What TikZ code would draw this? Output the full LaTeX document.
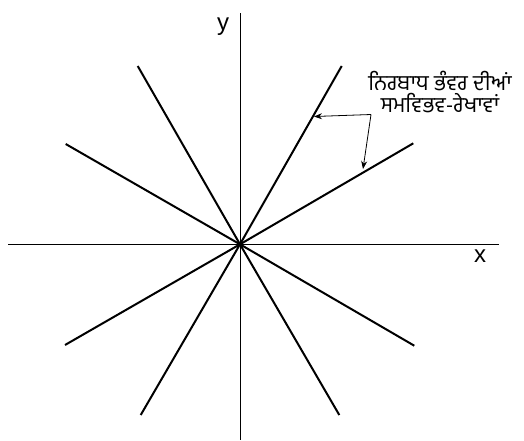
\documentclass[tikz,border=0pt]{standalone}
\usepackage{fontspec}
\setmainfont{Liberation Sans}
\newfontfamily\gurfont[Script=Gurmukhi]{Hind Jalandhar}
\usetikzlibrary{arrows.meta}
\begin{document}
\begin{tikzpicture}[x=1pt,y=-1pt,
  axis/.style={line width=0.9pt},
  ray/.style={line width=2pt},
  pointer/.style={line width=0.8pt,-{Stealth[length=8pt,width=6pt]}},
  lbl/.style={inner sep=0pt}]
\useasboundingbox (0,0) rectangle (524,440);
\coordinate (O) at (240,244.3);
\coordinate (xl) at (8,244.3);
\coordinate (xr) at (499,244.3);
\coordinate (yt) at (240,13);
\coordinate (yb) at (240,440);
\draw[axis] (xl) -- (xr);
\draw[axis] (yt) -- (yb);
\node[lbl,font=\fontsize{24}{24}\selectfont] (ylab) at (223,27) {y};
\node[lbl,font=\fontsize{24}{24}\selectfont] (xlab) at (480,256) {x};
% rays
\coordinate (r1) at (341.7,66);
\coordinate (r2) at (413.3,143.3);
\coordinate (r3) at (137.7,66);
\coordinate (r4) at (65.7,144);
\coordinate (r5) at (65,345);
\coordinate (r6) at (140.7,415);
\coordinate (r7) at (339.3,415);
\coordinate (r8) at (414.3,345.7);
\foreach \r in {r1,r2,r3,r4,r5,r6,r7,r8} \draw[ray] (O) -- (\r);
% label
\node[lbl,align=center,font=\gurfont\fontsize{21.5}{22}\selectfont] (lab) at (440,92) {ਨਿਰਬਾਧ ਭੰਵਰ ਦੀਆਂ\\ਸਮਵਿਭਵ-ਰੇਖਾਵਾਂ};
\coordinate (corner) at (371,114.5);
\coordinate (t1) at (314,116.5);
\coordinate (t2) at (363,169);
\draw[pointer] (corner) -- (t1);
\draw[pointer] (corner) -- (t2);
\end{tikzpicture}
\end{document}
